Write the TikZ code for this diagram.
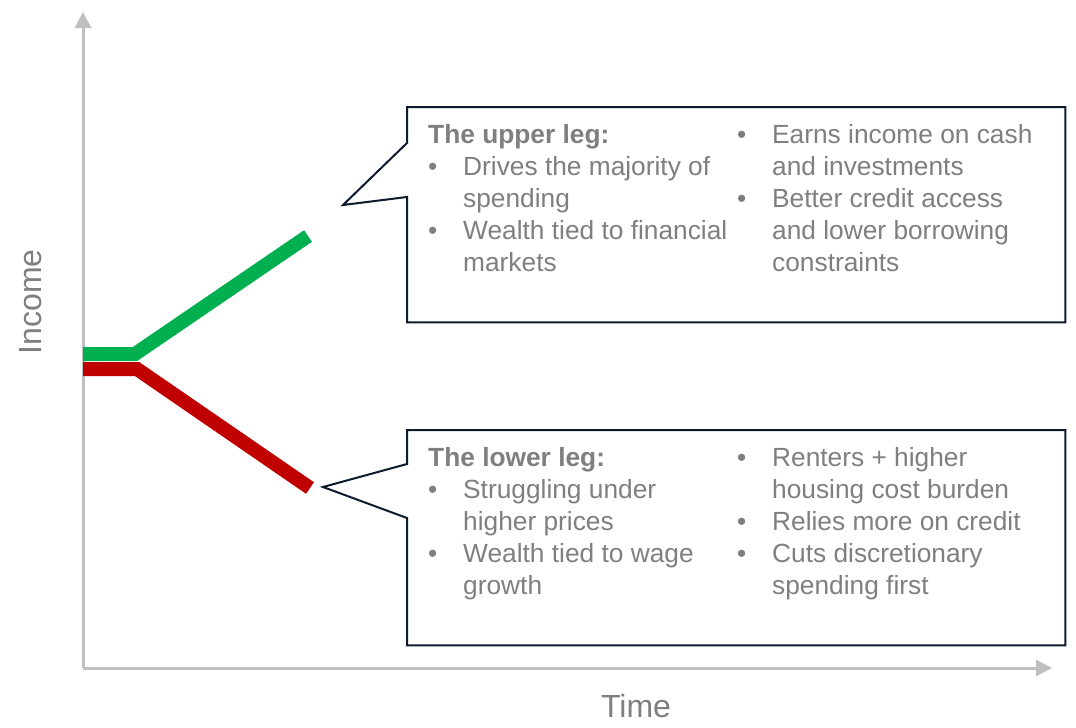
\documentclass[tikz,border=0pt]{standalone}
\usepackage{fontspec}
\setmainfont{Liberation Sans}
\usetikzlibrary{calc, arrows.meta, positioning}
\definecolor{axisgray}{HTML}{BFBFBF}
\definecolor{textgray}{HTML}{7F7F7F}
\definecolor{upgreen}{HTML}{00B050}
\definecolor{downred}{HTML}{C00000}
\definecolor{boxborder}{HTML}{0D1B2E}

\newcommand{\bul}{\makebox[35pt][l]{\textbullet}}
\newcommand{\ind}{\hspace*{35pt}}

\begin{document}
\begin{tikzpicture}[
    x=1pt, y=-1pt,
    axis/.style={draw=axisgray, line width=3pt, -{Triangle[length=16pt, width=16pt]}},
    leg/.style={line width=14pt, line join=miter},
    legbox/.style={minimum width=658pt, minimum height=215pt, inner sep=0pt, anchor=north west},
    callout/.style={draw=boxborder, line width=2pt, fill=white, line join=miter},
    % base of a multi-line node is its last line
    txt/.style={text=textgray, font=\fontsize{26.3}{32}\selectfont, align=left, inner sep=0pt, anchor=base west},
    axislabel/.style={text=textgray, font=\fontsize{32}{38}\selectfont, inner sep=0pt}
]
    \useasboundingbox (0,0) rectangle (1076,728);

    % Axes
    \coordinate (origin) at (83,668);
    \coordinate (ytop) at (83,12);
    \coordinate (xend) at (1052,668);
    \draw[axis] (origin) -- (ytop);
    \draw[axis] (origin) -- (xend);
    \node[axislabel, rotate=90] (income) at (31,302) {Income};
    \node[axislabel] (time) at (636,706) {Time};

    % The two legs
    \coordinate (gstart) at (83,354);
    \coordinate (gknee) at (135,354);
    \coordinate (gend) at (308,236);
    \coordinate (rstart) at (83,369);
    \coordinate (rknee) at (137,369);
    \coordinate (rend) at (310,488);
    \draw[leg, downred] (rstart) -- (rknee) -- (rend);
    \draw[leg, upgreen] (gstart) -- (gknee) -- (gend);

    % Upper leg callout
    \node[legbox] (ubox) at (407,107) {};
    \coordinate (utip) at (343,205);
    \draw[callout] (ubox.north west) -- (ubox.north east) -- (ubox.south east) -- (ubox.south west)
        -- ($(ubox.north west)+(0,90)$) -- (utip) -- ($(ubox.north west)+(0,36)$) -- cycle;
    \node[txt] (uleft) at (428,271) {\textbf{The upper leg:}\\
        \bul Drives the majority of\\
        \ind spending\\
        \bul Wealth tied to financial\\
        \ind markets};
    \node[txt] (uright) at (737,271) {\bul Earns income on cash\\
        \ind and investments\\
        \bul Better credit access\\
        \ind and lower borrowing\\
        \ind constraints};

    % Lower leg callout
    \node[legbox] (lbox) at (407,430) {};
    \coordinate (ltip) at (323,487);
    \draw[callout] (lbox.north west) -- (lbox.north east) -- (lbox.south east) -- (lbox.south west)
        -- ($(lbox.north west)+(0,88)$) -- (ltip) -- ($(lbox.north west)+(0,34)$) -- cycle;
    \node[txt] (lleft) at (428,594) {\textbf{The lower leg:}\\
        \bul Struggling under\\
        \ind higher prices\\
        \bul Wealth tied to wage\\
        \ind growth};
    \node[txt] (lright) at (737,594) {\bul Renters + higher\\
        \ind housing cost burden\\
        \bul Relies more on credit\\
        \bul Cuts discretionary\\
        \ind spending first};

\end{tikzpicture}
\end{document}
